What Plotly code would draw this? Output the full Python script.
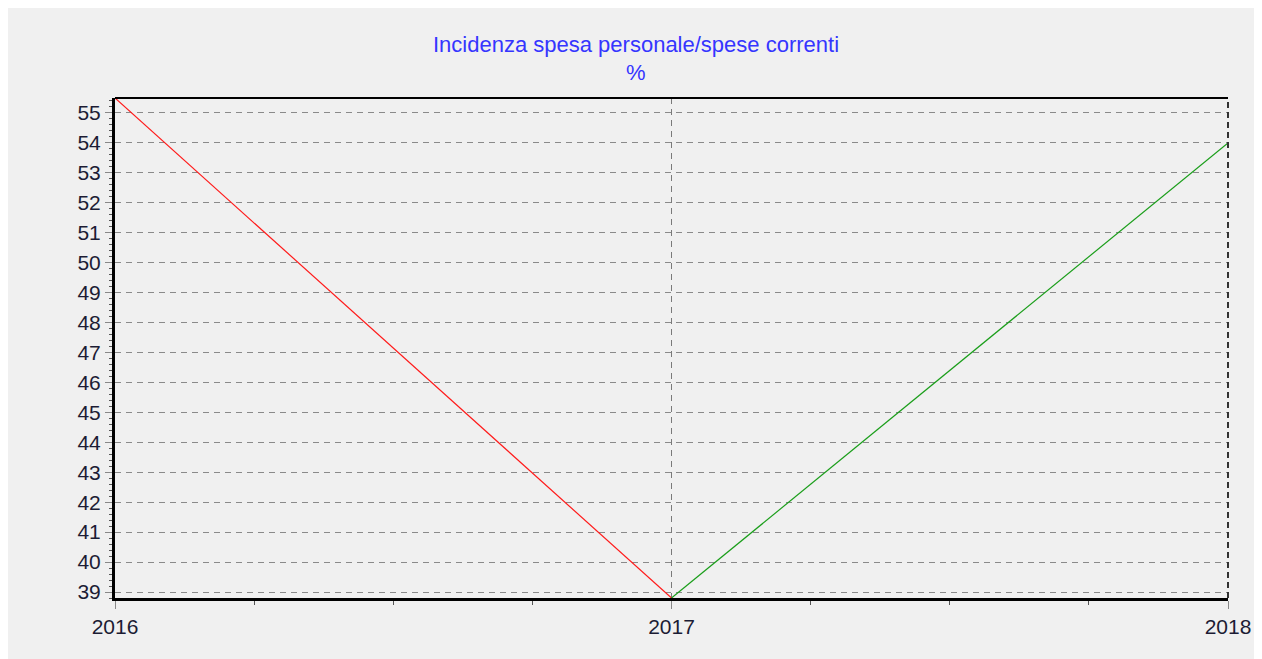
import plotly.graph_objects as go

# dati
anni = [2016, 2017, 2018]
valori = [55.5, 38.8, 54.0]
colori_segmenti = ['#ff1a1a', '#1a9e1a']
titolo = 'Incidenza spesa personale/spese correnti'
unita = '%'

fig = go.Figure()

# un segmento per ogni coppia di anni consecutivi
for i in range(len(anni) - 1):
    fig.add_trace(go.Scatter(
        x=anni[i:i + 2],
        y=valori[i:i + 2],
        mode='lines',
        line=dict(color=colori_segmenti[i], width=1.2),
        showlegend=False,
        hoverinfo='x+y'
    ))

font_tick = dict(family='Liberation Sans, Arial, sans-serif', size=21, color='#1c1c34')

fig.update_xaxes(
    range=[2016, 2018],
    tickvals=anni,
    ticktext=[str(a) for a in anni],
    tickfont=font_tick,
    showgrid=True, gridcolor='#7a7a7a', griddash='6px,5px', gridwidth=1,
    showline=True, linecolor='black', linewidth=3,
    ticks='outside', ticklen=8, tickcolor='#888888', tickwidth=1,
    minor=dict(dtick=0.25, ticks='outside', ticklen=4, tickcolor='#555555', showgrid=False),
    zeroline=False
)

fig.update_yaxes(
    range=[38.8, 55.5],
    dtick=1,
    tickfont=font_tick,
    showgrid=True, gridcolor='#8a8a8a', griddash='6px,5px', gridwidth=1,
    showline=True, linecolor='black', linewidth=3,
    ticks='outside', ticklen=7, tickcolor='#888888', tickwidth=1,
    minor=dict(dtick=0.2, ticks='outside', ticklen=3, tickcolor='#555555', showgrid=False),
    zeroline=False
)

# bordo superiore e bordo destro tratteggiato
fig.add_shape(type='line', xref='paper', yref='paper', x0=0, x1=1, y0=1, y1=1,
              line=dict(color='black', width=2))
fig.add_shape(type='line', xref='paper', yref='paper', x0=1, x1=1, y0=0, y1=1,
              line=dict(color='#333333', width=2, dash='6px,4px'))

font_titolo = dict(family='Liberation Sans, Arial, sans-serif', size=22, color='#3535ff')
fig.add_annotation(text=titolo, xref='paper', yref='paper', x=(636 - 115) / 1113, y=(598 - 45) / 500,
                   showarrow=False, font=font_titolo, xanchor='center', yanchor='middle')
fig.add_annotation(text=unita, xref='paper', yref='paper', x=(636 - 115) / 1113, y=(598 - 73) / 500,
                   showarrow=False, font=font_titolo, xanchor='center', yanchor='middle')

fig.update_layout(
    width=1254, height=651,
    margin=dict(l=107, r=34, t=90, b=61),
    paper_bgcolor='#f0f0f0',
    plot_bgcolor='rgba(0,0,0,0)',
    showlegend=False
)

fig.write_html('out.html')
